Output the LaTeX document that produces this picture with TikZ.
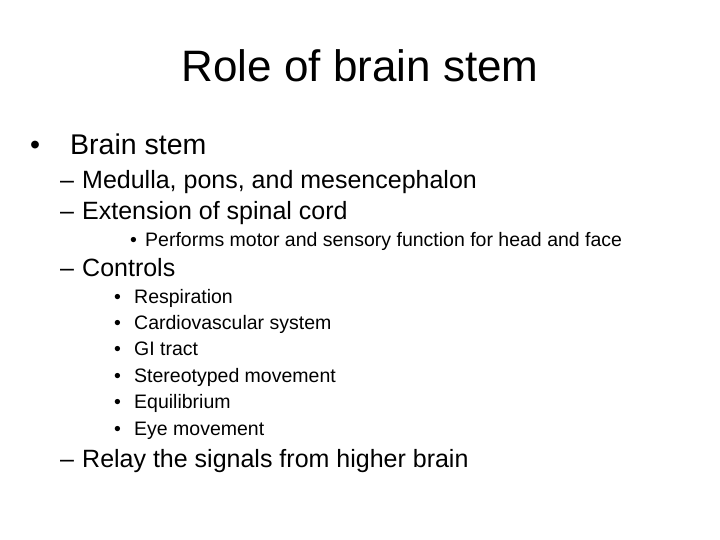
\documentclass[tikz,border=0pt]{standalone}
\usepackage{fontspec}
\setmainfont{Liberation Sans}
\begin{document}
\begin{tikzpicture}[x=1pt,y=-1pt,
  t/.style={anchor=base west,inner sep=0pt},
  lone/.style={t,font=\fontsize{28.5}{30}\selectfont},
  ltwo/.style={t,font=\fontsize{25}{28}\selectfont},
  lthree/.style={t,font=\fontsize{19.5}{22}\selectfont},
  lfour/.style={t,font=\fontsize{19.5}{22}\selectfont}]
\useasboundingbox (0,0) rectangle (720,540);
\node[inner sep=0pt,anchor=base,font=\fontsize{44}{48}\selectfont] (title) at (360,82) {Role of brain stem};
\node[lone] (b1) at (30,155) {•};
\node[lone] (a1) at (70,155) {Brain stem};
\node[ltwo] (d1) at (60,189) {–};
\node[ltwo] (a2) at (82,189) {Medulla, pons, and mesencephalon};
\node[ltwo] (d2) at (60,220) {–};
\node[ltwo] (a3) at (82,220) {Extension of spinal cord};
\node[lthree] (b2) at (130,246) {•};
\node[lthree] (a4) at (145,246) {Performs motor and sensory function for head and face};
\node[ltwo] (d3) at (60,276) {–};
\node[ltwo] (a5) at (82,276) {Controls};
\foreach \y/\s [count=\i] in {303/Respiration,329/Cardiovascular system,355/GI tract,382/Stereotyped movement,408/Equilibrium,435/Eye movement}{
  \node[lfour] (sb\i) at (114,\y) {•};
  \node[lfour] (s\i) at (134,\y) {\s};
}
\node[ltwo] (d4) at (60,467) {–};
\node[ltwo] (a6) at (82,467) {Relay the signals from higher brain};
\end{tikzpicture}
\end{document}
